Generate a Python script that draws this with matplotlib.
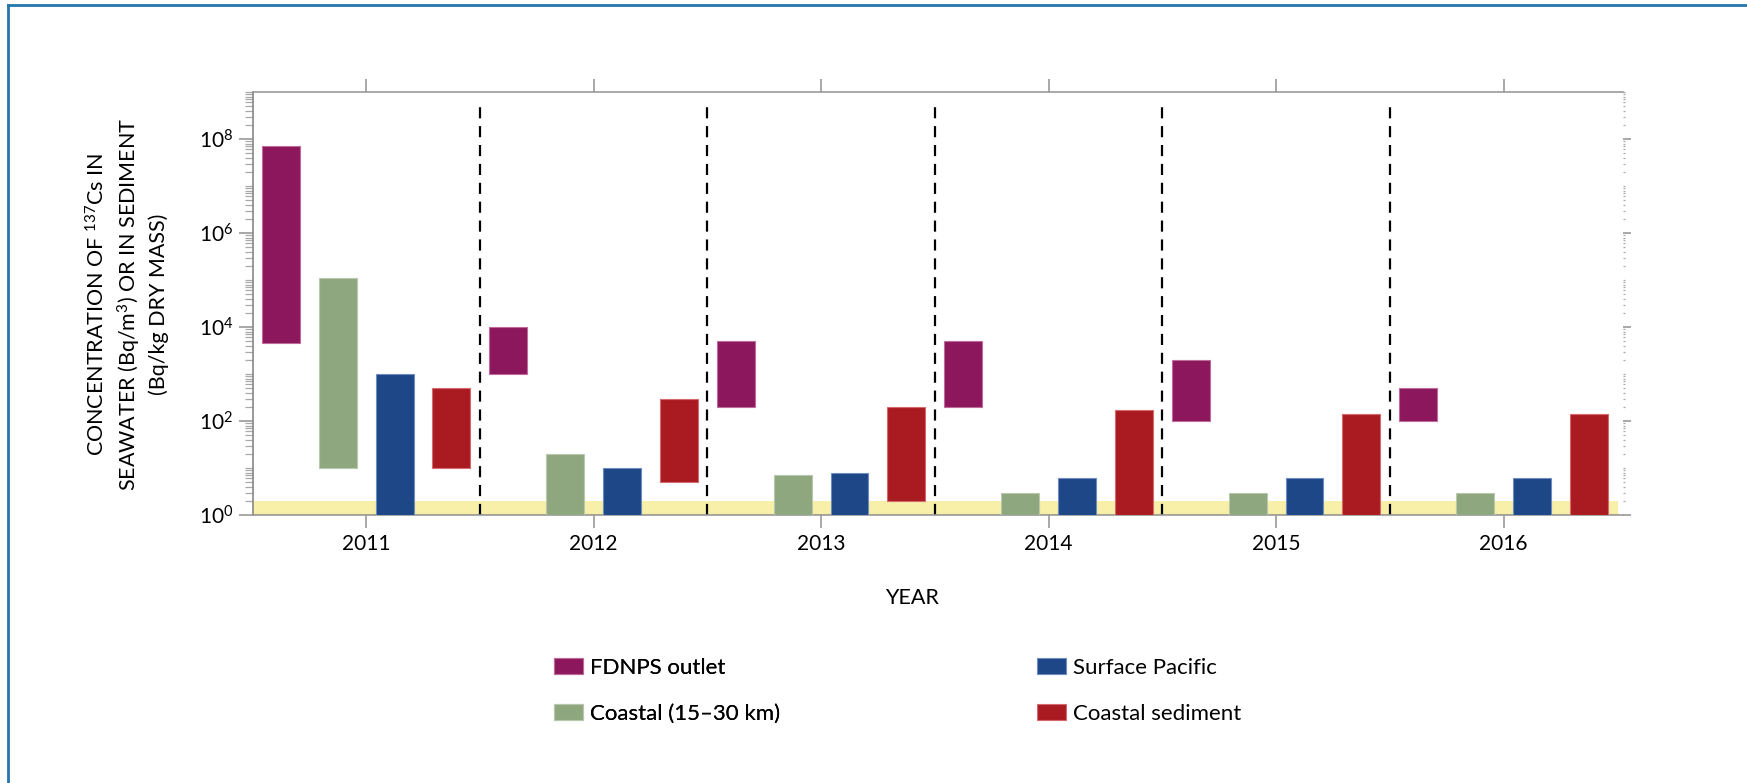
import numpy as np
import matplotlib
matplotlib.use("Agg")
import matplotlib.pyplot as plt
from matplotlib.patches import Patch
from matplotlib.lines import Line2D
from matplotlib.ticker import LogLocator, NullFormatter

plt.rcParams['font.family'] = ['Lato', 'DejaVu Sans']
plt.rcParams['mathtext.fontset'] = 'custom'
plt.rcParams['mathtext.rm'] = 'Lato'
plt.rcParams['mathtext.default'] = 'regular'

# data (Bq/m3 or Bq/kg), ranges
years = [2011, 2012, 2013, 2014, 2015, 2016]
outlet_low = [4.5e3, 1e3, 200, 200, 100, 100]
outlet_high = [7e7, 1e4, 5e3, 5e3, 2e3, 500]
coastal_low = [10, 1, 1, 1, 1, 1]
coastal_high = [1.1e5, 20, 7, 3, 3, 3]
pacific_low = [1, 1, 1, 1, 1, 1]
pacific_high = [1e3, 10, 8, 6, 6, 6]
sediment_low = [10, 5, 2, 1, 1, 1]
sediment_high = [500, 300, 200, 170, 140, 140]
band = [1, 2]  # pale yellow band near the bottom

series_names = ["FDNPS outlet", "Coastal (15\u201330 km)", "Surface Pacific", "Coastal sediment"]
ytick_exp = [0, 2, 4, 6, 8]

colors = ["#8c175c", "#8fa77f", "#1e4788", "#aa1b21"]
edges = ["#c06a9a", "#b8c8ad", "#6d8cc0", "#d46a6e"]
offsets = [-0.375, -0.125, 0.125, 0.375]
lows = [outlet_low, coastal_low, pacific_low, sediment_low]
highs = [outlet_high, coastal_high, pacific_high, sediment_high]

W, H = 1747, 783
fig = plt.figure(figsize=(W / 100, H / 100), dpi=100)
ax = fig.add_axes([253 / W, 1 - 515 / H, (1623 - 253) / W, (515 - 92) / H])

ax.set_yscale('log')
ax.set_ylim(1, 1e9)
ax.set_xlim(2010.503, 2016.525)

ax.axhspan(band[0], band[1], xmin=0, xmax=0.996, facecolor="#f8f0a8", edgecolor="none", zorder=1)
ax.axhline(band[0], xmin=0, xmax=0.996, color="#e2d56a", lw=1.5, zorder=1.5)

x = np.array(years, dtype=float)
for lo, hi, off, c, e in zip(lows, highs, offsets, colors, edges):
    lo = np.array(lo, dtype=float)
    hi = np.array(hi, dtype=float)
    ax.bar(x + off, hi - lo, bottom=lo, width=0.167, color=c, edgecolor=e, linewidth=0.8, zorder=3)

for y in years[:-1]:
    ax.axvline(y + 0.5, ymin=0, ymax=0.978, color="black", lw=1.6, ls=(0, (5, 3.5)), zorder=2)

# ticks
gray = "#999999"
ax.set_xticks(years)
ax.set_xticklabels([str(y) for y in years], fontsize=15)
ax.tick_params(axis='x', which='major', direction='out', length=9.5, width=1.2, color=gray,
               top=True, bottom=True, pad=4)
ax.set_yticks([10.0 ** e for e in ytick_exp])
ax.set_yticklabels([r'$10^{%d}$' % e for e in ytick_exp], fontsize=15)
ax.yaxis.set_minor_locator(LogLocator(base=10, subs=np.arange(1, 10), numticks=30))
ax.yaxis.set_minor_formatter(NullFormatter())
ax.tick_params(axis='y', which='major', direction='out', length=10, width=1.2, color=gray, pad=4,
               right=True)
ax.tick_params(axis='y', which='minor', direction='out', length=5.5, width=0.9, color="#aaaaaa",
               right=True)
for t in ax.yaxis.get_major_ticks():
    t.tick2line.set_markersize(6)
    t.tick2line.set_color("#888888")
for t in ax.yaxis.get_minor_ticks():
    t.tick2line.set_markersize(1.5)
    t.tick2line.set_color("#bbbbbb")

for s in ['left', 'bottom', 'top']:
    ax.spines[s].set_color(gray)
    ax.spines[s].set_linewidth(1.2)
ax.spines['left'].set_color("#888888")
ax.spines['right'].set_visible(False)

fig.text(127 / W, 1 - 304 / H,
         "CONCENTRATION OF $^{137}$Cs IN\nSEAWATER (Bq/m$^{3}$) OR IN SEDIMENT\n(Bq/kg DRY MASS)",
         rotation=90, ha='center', va='center', fontsize=15.5, linespacing=1.35,
         multialignment='center')
fig.text(912 / W, 1 - 598 / H, "YEAR", ha='center', va='center', fontsize=15.5)

handles = [Patch(facecolor=c, edgecolor=e, linewidth=0.8) for c, e in zip(colors, edges)]
leg_kw = dict(loc='upper left', frameon=False, fontsize=16,
              handlelength=1.3, handleheight=0.75, handletextpad=0.3, labelspacing=1.15,
              borderpad=0, borderaxespad=0)
leg1 = fig.legend(handles[:2], series_names[:2], bbox_to_anchor=(554 / W, 1 - 658 / H), **leg_kw)
leg2 = fig.legend(handles[2:], series_names[2:], bbox_to_anchor=(1037 / W, 1 - 658 / H), **leg_kw)
fig.add_artist(leg1)

# frame lines at the left and top edge
fig.add_artist(Line2D([7.5 / W, 7.5 / W], [0, 1 - 5 / H], color="#2576ad", lw=2, transform=fig.transFigure))
fig.add_artist(Line2D([7.5 / W, 1], [1 - 5 / H, 1 - 5 / H], color="#2576ad", lw=2, transform=fig.transFigure))

fig.savefig("out.png", dpi=100)
